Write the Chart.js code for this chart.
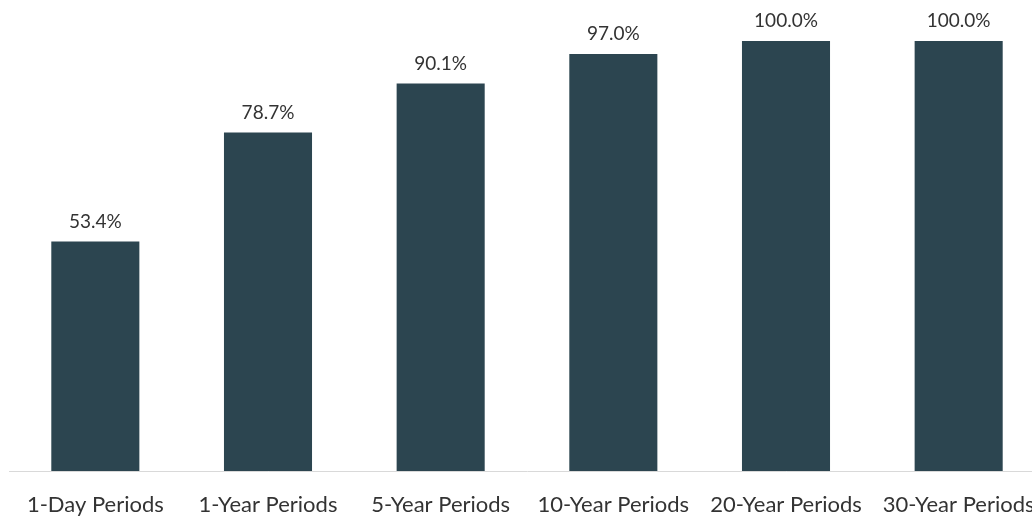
<!DOCTYPE html>
<html>
<head>
<meta charset="utf-8">
<script src="https://cdn.jsdelivr.net/npm/chart.js@4"></script>
<style>
html,body{margin:0;padding:0;background:#fff;overflow:hidden;}
#wrap{position:relative;width:1046px;height:516px;}
</style>
</head>
<body>
<div id="wrap"><canvas id="c" width="1046" height="516"></canvas></div>
<script>
const categories = ["1-Day Periods","1-Year Periods","5-Year Periods","10-Year Periods","20-Year Periods","30-Year Periods"];
const values = [53.4, 78.7, 90.1, 97.0, 100.0, 100.0];

const valueLabels = {
  id: 'valueLabels',
  afterDatasetsDraw(chart) {
    const ctx = chart.ctx;
    const meta = chart.getDatasetMeta(0);
    ctx.save();
    ctx.font = '19px Lato, "Open Sans", sans-serif';
    ctx.fillStyle = '#333333';
    ctx.textAlign = 'center';
    ctx.textBaseline = 'middle';
    meta.data.forEach((bar, i) => {
      ctx.fillText(values[i].toFixed(1) + '%', bar.x, bar.y - 20);
    });
    ctx.restore();
  }
};

new Chart(document.getElementById('c'), {
  type: 'bar',
  data: {
    labels: categories,
    datasets: [{
      data: values,
      backgroundColor: '#2C4550',
      borderWidth: 0,
      barPercentage: 0.51,
      categoryPercentage: 1.0
    }]
  },
  options: {
    responsive: false,
    animation: false,
    layout: { padding: { left: 9, right: 1, top: 41, bottom: 0 } },
    plugins: { legend: { display: false }, tooltip: { enabled: false } },
    scales: {
      y: { display: false, min: 0, max: 100 },
      x: {
        grid: { display: false, drawTicks: false },
        border: { display: true, color: '#D9D9D9', width: 1 },
        ticks: {
          color: '#333333',
          font: { family: 'Lato, "Open Sans", sans-serif', size: 22 },
          padding: 21,
          maxRotation: 0,
          autoSkip: false
        },
        afterFit(scale) { scale.height = 45; scale.paddingLeft = 0; scale.paddingRight = 0; }
      }
    }
  },
  plugins: [valueLabels]
});
</script>
</body>
</html>
